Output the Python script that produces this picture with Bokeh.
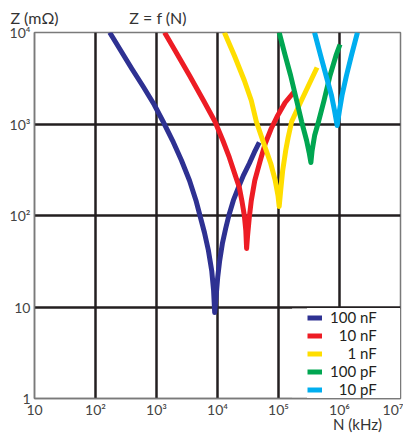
from bokeh.plotting import figure
from bokeh.models import (Range1d, FixedTicker, Legend, LegendItem, BoxAnnotation, LogAxis)
from bokeh.embed import file_html
from bokeh.resources import INLINE

FONT = "Lato"

# ---- data (frequency N in kHz, impedance Z in mOhm) ----
blue_N = [171, 259, 392, 604, 914, 1282, 1833, 2570, 3475, 4436, 5155, 6107, 7100, 8035, 8630, 8995,
          9520, 10070, 10860, 12020, 13610, 15350, 18190, 21980, 26510, 33200, 40090, 48420]
blue_Z = [10000, 6353, 4046, 2570, 1633, 1064, 660, 399, 241.5, 146, 100, 65.2, 41.4, 25.0, 15.1, 8.7,
          13.4, 21.0, 32.2, 49.4, 72.1, 100, 146, 202, 273, 370, 489, 628]

red_N = [1355, 2014, 3475, 5890, 9080, 12250, 15630, 19620, 22800, 25050, 27540, 29120, 30000,
         31130, 33200, 35810, 40840, 50230, 60670, 76030, 97050, 128600, 187600]
red_Z = [10000, 6353, 3388, 1807, 1064, 660, 431, 273, 202, 146, 100, 68.5, 43.6,
         60.4, 95.1, 146, 241.5, 399, 612, 893, 1239, 1718, 2323]

yellow_N = [12970, 18880, 27540, 35810, 43250, 55210, 74650, 88330, 98100, 102600,
            108600, 117100, 131200, 143900, 164400, 209900, 283800, 428300]
yellow_Z = [10000, 5610, 2985, 1807, 1064, 660, 370, 241.5, 165.6, 125.3,
            187.5, 310, 513, 711, 1064, 1514, 2323, 4140]

green_N = [102600, 128600, 158100, 198200, 239200, 288900, 317600, 339700,
           355600, 390800, 453900, 558400, 699800, 877000, 1019000]
green_Z = [10000, 5610, 3388, 1807, 1064, 660, 489, 379,
           513, 748, 1064, 1807, 3388, 5610, 7395]

cyan_N = [390000, 489600, 601700, 739700, 828400, 916200, 1000000, 1099000, 1301000, 1570000, 1968000]
cyan_Z = [10000, 5610, 3388, 2047, 1406, 964, 1406, 2047, 3388, 5610, 10000]

series_names = ["100 nF", "\u200710 nF", "\u2007\u20071 nF", "100 pF", "\u200710 pF"]
series_colors = ["#2e3192", "#ed1c24", "#ffde00", "#00a651", "#00aeef"]

x_ticks = [10, 100, 1000, 10000, 100000, 1000000, 10000000]
x_tick_labels = ["10", "10²", "10³", "10⁴", "10⁵", "10⁶", "10⁷"]
y_ticks = [1, 10, 100, 1000, 10000]
y_tick_labels = ["1", "10", "10²", "10³", "10⁴"]

# header texts, anchored (left edge) at these N positions
header_pos = [10, 1062]
header_texts = ["Z (mΩ)", "Z = f (N)"]
# x-axis unit text, anchored (right edge) at the range end
unit_pos = [10000000]
unit_texts = ["N (kHz)"]

p = figure(width=403, height=436, x_axis_type="log", y_axis_type="log",
           x_range=Range1d(10, 1e7), y_range=Range1d(1, 1e4),
           output_backend="svg", toolbar_location=None,
           min_border_left=34, min_border_right=3, min_border_top=32, min_border_bottom=38)
p.background_fill_color = "white"
p.border_fill_color = "white"
p.outline_line_color = "#7a7a7a"
p.outline_line_width = 1.5

for ax, ticks, labels in ((p.xaxis[0], x_ticks, x_tick_labels), (p.yaxis[0], y_ticks, y_tick_labels)):
    ax.ticker = FixedTicker(ticks=ticks)
    ax.major_label_overrides = {t: l for t, l in zip(ticks, labels)}
    ax.major_tick_line_color = None
    ax.minor_tick_line_color = None
    ax.major_tick_out = 0
    ax.minor_tick_out = 0
    ax.major_tick_in = 0
    ax.minor_tick_in = 0
    ax.axis_line_color = "#7a7a7a"
    ax.axis_line_width = 1.5
    ax.major_label_text_font = FONT
    ax.major_label_text_font_size = "14px"
    ax.major_label_text_color = "#444444"
p.xaxis.major_label_standoff = 2
p.yaxis.major_label_standoff = 4


def text_axis(ticks, texts, align, standoff, size):
    a = LogAxis(ticker=FixedTicker(ticks=ticks),
                major_label_overrides={t: s for t, s in zip(ticks, texts)})
    a.axis_line_color = None
    a.major_tick_line_color = None
    a.minor_tick_line_color = None
    a.major_tick_out = 0
    a.minor_tick_out = 0
    a.major_tick_in = 0
    a.minor_tick_in = 0
    a.major_label_standoff = standoff
    a.major_label_text_align = align
    a.major_label_text_font = FONT
    a.major_label_text_font_size = size
    a.major_label_text_color = "#333333"
    return a


p.add_layout(text_axis(header_pos, header_texts, "left", 6, "16px"), "above")
p.add_layout(text_axis(unit_pos, unit_texts, "right", -6, "15px"), "below")

p.xgrid.ticker = FixedTicker(ticks=x_ticks[1:-1])
p.ygrid.ticker = FixedTicker(ticks=y_ticks[1:-1])
for g in (p.xgrid[0], p.ygrid[0]):
    g.grid_line_color = "#231f20"
    g.grid_line_width = 2.5
    g.grid_line_alpha = 1

renderers = []
for xs, ys, c in ((blue_N, blue_Z, series_colors[0]), (red_N, red_Z, series_colors[1]),
                  (yellow_N, yellow_Z, series_colors[2]), (green_N, green_Z, series_colors[3]),
                  (cyan_N, cyan_Z, series_colors[4])):
    r = p.line(xs, ys, line_color=c, line_width=5, line_join="round")
    renderers.append(r)

# white patch under the legend (hides grid lines there)
p.add_layout(BoxAnnotation(left=167000, right=9.5e6, bottom=1.03, top=9.6,
                           fill_color="white", fill_alpha=1, line_color=None))

legend = Legend(items=[LegendItem(label=n, renderers=[r]) for n, r in zip(series_names, renderers)],
                location="bottom_right")
legend.margin = 0
legend.padding = 3
legend.spacing = 0
legend.label_height = 17
legend.glyph_height = 17
legend.glyph_width = 15
legend.label_standoff = 8
legend.label_width = 70
legend.label_text_font = FONT
legend.label_text_font_size = "15px"
legend.label_text_color = "#231f20"
legend.background_fill_color = "white"
legend.background_fill_alpha = 1
legend.border_line_color = None
p.add_layout(legend)

open("out.html", "w").write(file_html(p, INLINE))
